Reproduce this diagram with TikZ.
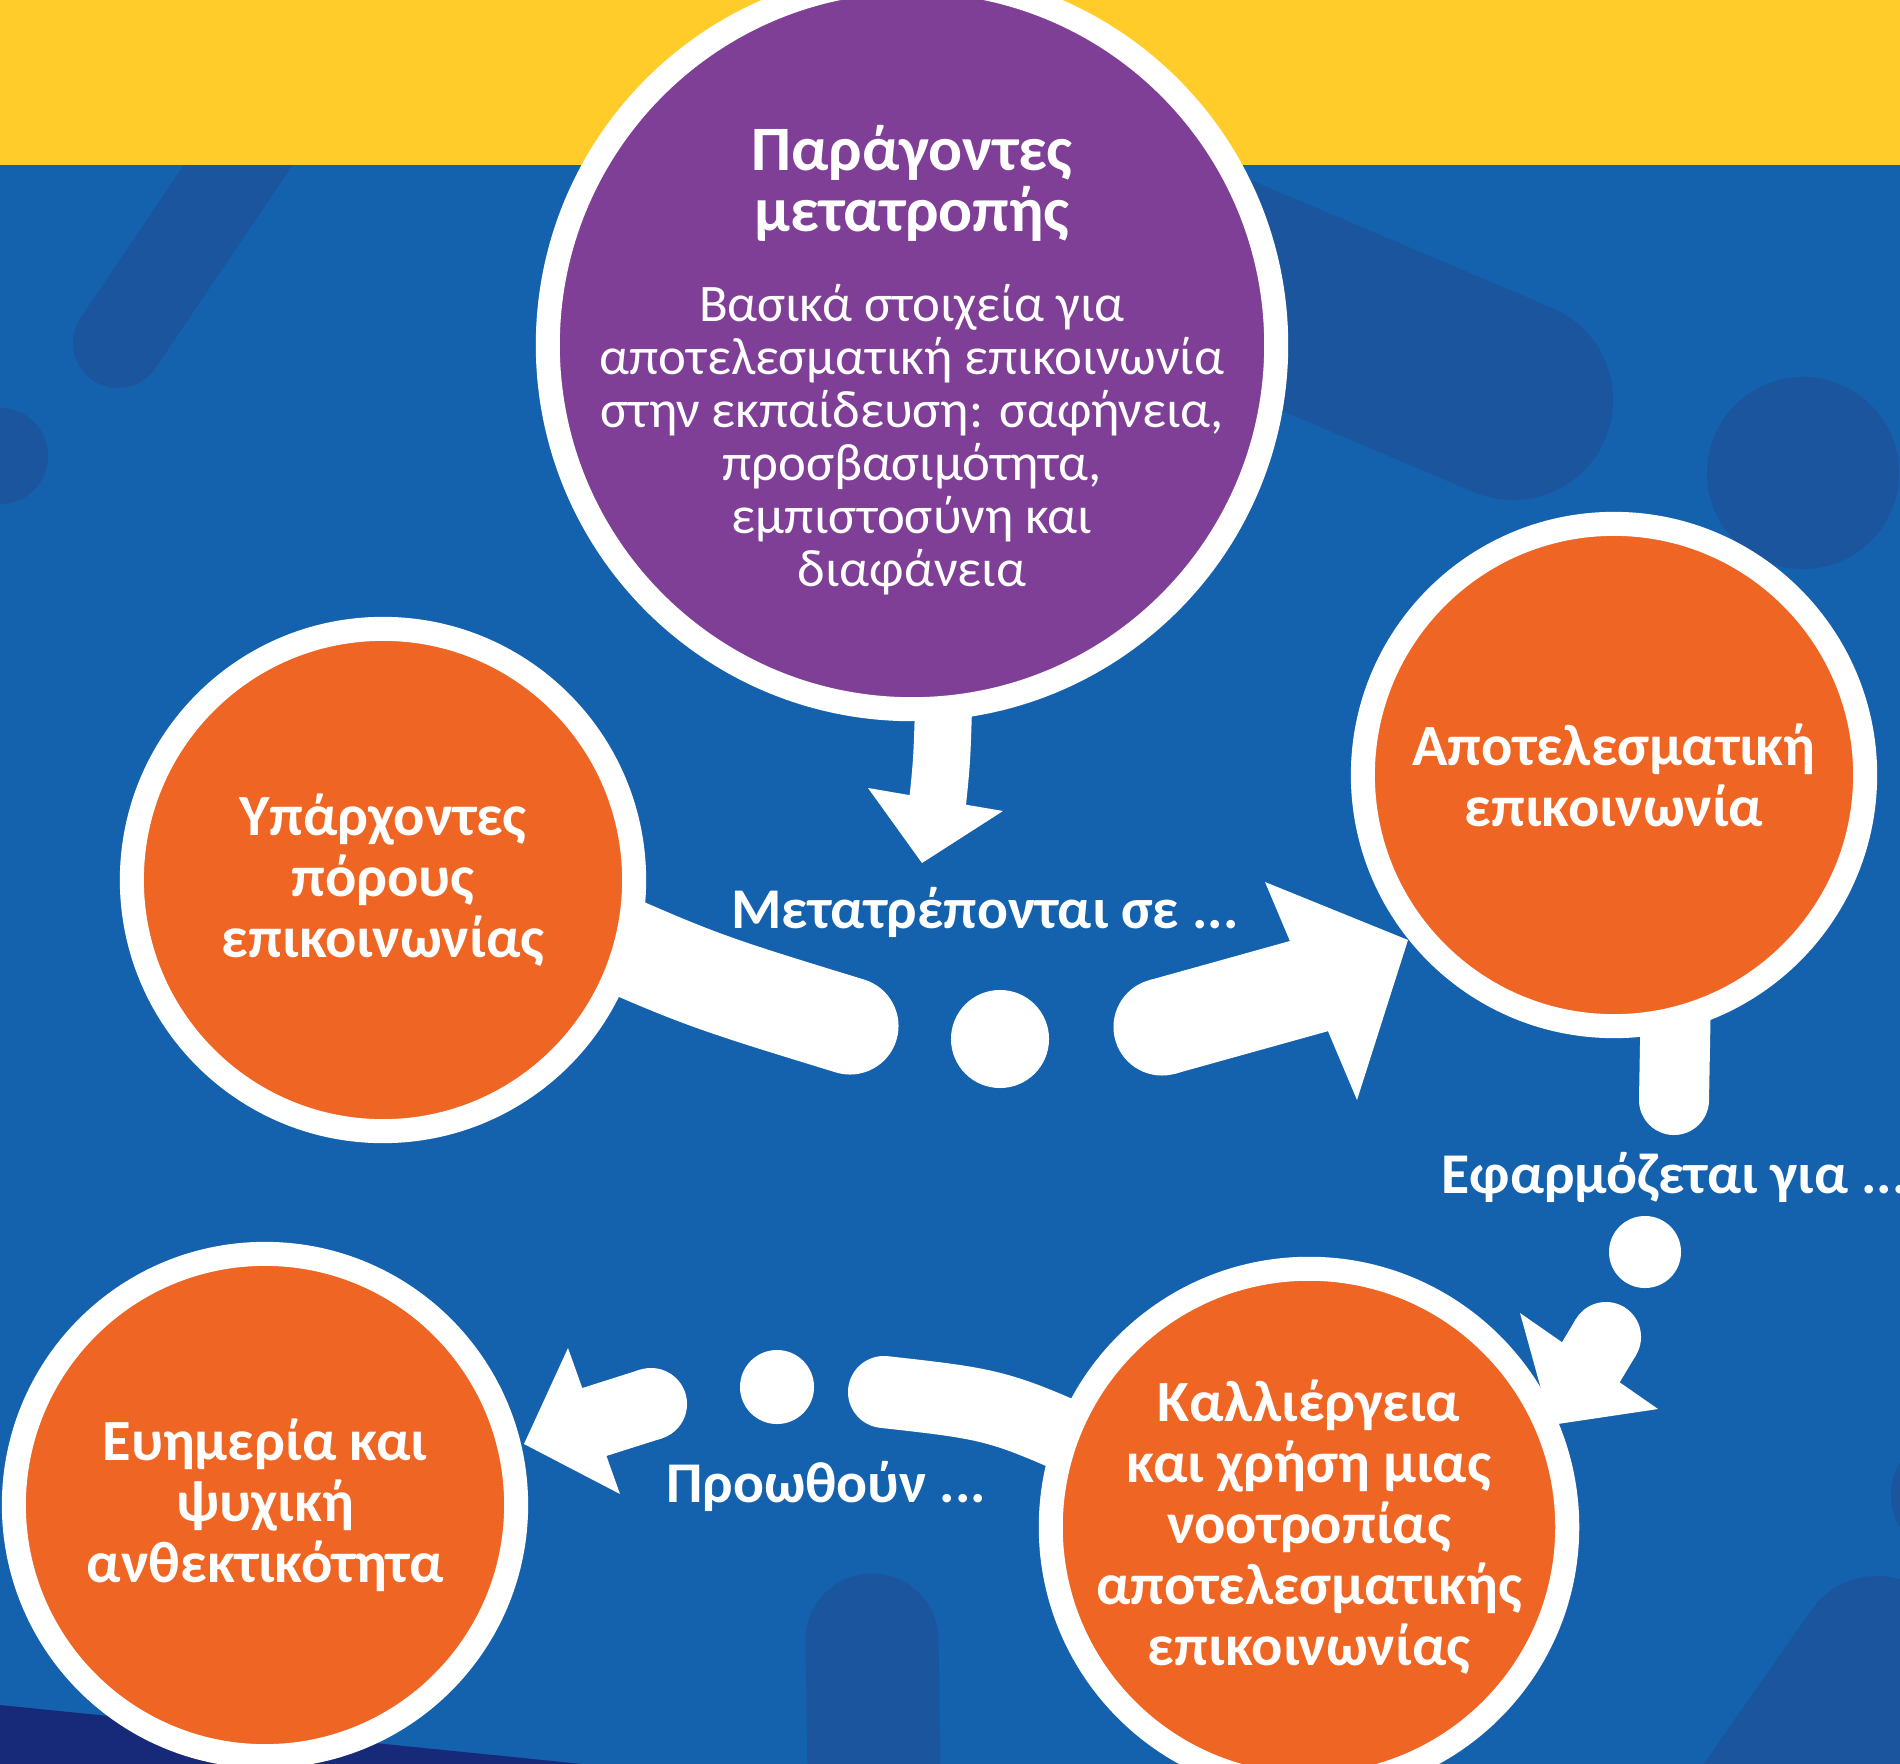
\documentclass[tikz,border=0pt]{standalone}
\usepackage{fontspec}
\setmainfont{Carlito}

\definecolor{bgblue}{HTML}{1461AD}
\definecolor{decoblue}{HTML}{1A559D}
\definecolor{bandyellow}{HTML}{FFCC29}
\definecolor{factpurple}{HTML}{7F3F97}
\definecolor{steporange}{HTML}{EE6524}
\definecolor{navyblue}{HTML}{172A7A}

\begin{document}
\begin{tikzpicture}[x=0.01cm,y=-0.01cm,
    bubble/.style={circle,draw=white,line width=0.24cm,fill=steporange,minimum size=5.02cm,
        inner sep=0pt,text=white,align=center,font=\bfseries\fontsize{16.6}{17.4}\selectfont},
    band/.style={draw=white,line width=#1},
    deco/.style={draw=decoblue,line cap=round,line width=#1},
    dot/.style={circle,fill=white,inner sep=0pt,minimum size=#1},
    note/.style={text=white,inner sep=0pt,font=\bfseries\fontsize{16.4}{20}\selectfont}]

    \useasboundingbox (0,0) rectangle (1900,1764);
    \clip (0,0) rectangle (1900,1764);

    % фон
    \fill[bgblue] (0,0) rectangle (1900,1764);
    \draw[deco=0.9cm] (118,343) -- (270,118);
    \fill[decoblue] (0,456) circle[radius=0.48cm];
    \draw[deco=2cm] (900,140) -- (1513,400);
    \fill[decoblue] (1803,473) circle[radius=0.96cm];
    \draw[deco=1.33cm] (872,1640) -- (876,1900);
    \draw[deco=1.6cm] (1877,1656) -- (1720,1880);
    \fill[decoblue] (1955,1495) circle[radius=0.64cm];
    \fill[navyblue] (0,1705) -- (582,1764) -- (0,1764) -- cycle;
    \fill[bandyellow] (0,0) rectangle (1900,165);

    % стрелка вниз
    \coordinate (a1) at (944,690);
    \coordinate (a2) at (937,808);
    \draw[band=0.57cm] (a1) .. controls (942,760) .. (a2);
    \fill[white] (868,788) -- (1003,811) -- (922,863) -- cycle;

    % стрелка вправо
    \coordinate (b1) at (560,918);
    \coordinate (b2) at (850,1026);
    \draw[band=0.97cm,line cap=round] (b1) .. controls (700,980) .. (b2);
    \node[dot=0.98cm] (dotB) at (1000,1039) {};
    \coordinate (b3) at (1162,1027);
    \coordinate (b4) at (1320,983);
    \draw[band=0.97cm] (b3) -- (b4);
    \fill[white] (b3) circle[radius=0.485cm];
    \fill[white] (1265,882) -- (1408,940) -- (1357,1100) -- cycle;

    % стрелка вниз справа
    \coordinate (c1) at (1676,990);
    \coordinate (c2) at (1674,1100);
    \draw[band=0.7cm,line cap=round] (c1) -- (c2);
    \node[dot=0.72cm] (dotC) at (1645,1252) {};
    \coordinate (c3) at (1606,1337);
    \coordinate (c4) at (1585,1372);
    \draw[band=0.7cm] (c3) -- (c4);
    \fill[white] (c3) circle[radius=0.35cm];
    \fill[white] (1520,1313) -- (1658,1409) -- (1551,1425) -- cycle;

    % стрелка влево
    \coordinate (d1) at (1120,1460);
    \coordinate (d2) at (884,1392);
    \draw[band=0.72cm,line cap=round] (d1) .. controls (1000,1405) .. (d2);
    \node[dot=0.74cm] (dotD) at (777,1387) {};
    \coordinate (d3) at (651,1404);
    \coordinate (d4) at (588,1424);
    \draw[band=0.72cm] (d3) -- (d4);
    \fill[white] (d3) circle[radius=0.36cm];
    \fill[white] (568,1348) -- (524,1444) -- (620,1494) -- cycle;

    % круги
    \node[bubble,fill=factpurple,minimum size=7.28cm] (factors) at (912,345) {};
    \node[bubble] (existing) at (383,880) {Υπάρχοντες\\πόρους\\επικοινωνίας};
    \node[bubble] (effective) at (1614,775) {Αποτελεσματική\\επικοινωνία};
    \node[bubble] (mindset) at (1309,1527) {Καλλιέργεια\\και χρήση μιας\\νοοτροπίας\\αποτελεσματικής\\επικοινωνίας};
    \node[bubble] (wellbeing) at (265,1505) {Ευημερία και\\ψυχική\\ανθεκτικότητα};

    % текст в фиолетовом круге
    \node[text=white,align=center,anchor=base,inner sep=0pt,
        font=\bfseries\fontsize{18}{17.6}\selectfont] (factorsT) at (912,232) {Παράγοντες\\μετατροπής};
    \node[text=white,align=center,anchor=base,inner sep=0pt,
        font=\fontsize{15}{15.1}\selectfont] (factorsB) at (912,587)
        {Βασικά στοιχεία για\\αποτελεσματική επικοινωνία\\στην εκπαίδευση: σαφήνεια,\\προσβασιμότητα,\\εμπιστοσύνη και\\διαφάνεια};

    % подписи
    \node[note,anchor=base] (turnL) at (985,928) {Μετατρέπονται σε ...};
    \node[note,anchor=base west] (applyL) at (1441,1193) {Εφαρμόζεται για ...};
    \node[note,anchor=base] (pushL) at (826,1502) {Προωθούν ...};
\end{tikzpicture}
\end{document}
